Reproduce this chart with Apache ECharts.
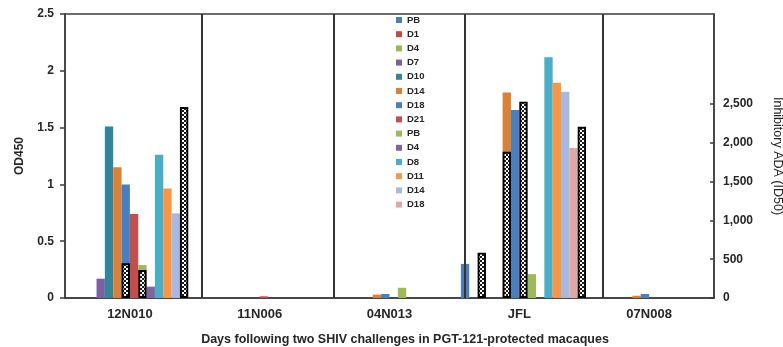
<!DOCTYPE html>
<html><head><meta charset="utf-8">
<script src="https://cdn.jsdelivr.net/npm/echarts@6/dist/echarts.min.js"></script>
<style>html,body{margin:0;padding:0;background:#fff}#c{width:783px;height:347px}</style>
</head><body><div id="c"></div>
<script>
// ---------- data ----------
const animals = ['12N010', '11N006', '04N013', 'JFL', '07N008'];
const legendNames = ['PB', 'D1', 'D4', 'D7', 'D10', 'D14', 'D18', 'D21', 'PB', 'D4', 'D8', 'D11', 'D14', 'D18'];
// OD450 per series, in the order of `animals`
const odPB1  = [0,     0,     0,     0.30,  0];
const odD1   = [0,     0,     0,     0,     0];
const odD4a  = [0,     0,     0,     0,     0];
const odD7   = [0.17,  0,     0,     0,     0];
const odD10  = [1.51,  0,     0,     0,     0];
const odD14a = [1.15,  0,     0.03,  1.81,  0.02];
const odD18a = [1.00,  0,     0.035, 1.655, 0.035];
const odD21  = [0.74,  0.015, 0,     0,     0];
const odPB2  = [0.29,  0,     0.09,  0.21,  0];
const odD4b  = [0.10,  0,     0,     0,     0];
const odD8   = [1.26,  0,     0,     2.12,  0];
const odD11  = [0.965, 0,     0,     1.895, 0];
const odD14b = [0.745, 0,     0,     1.815, 0];
const odD18b = [null,  0,     0,     1.32,  0];
const odSeries = [odPB1, odD1, odD4a, odD7, odD10, odD14a, odD18a, odD21, odPB2, odD4b, odD8, odD11, odD14b, odD18b];
// Inhibitory ADA (ID50): [animal, ADA time-point series number, value]
const adaPoints = [
  ['12N010', 7, 447], ['12N010', 9, 361], ['12N010', 14, 2460],
  ['JFL', 3, 584], ['JFL', 6, 1885], ['JFL', 8, 2530], ['JFL', 15, 2207]
];
const adaSeriesCount = 16;
const leftTicks = [0, 0.5, 1, 1.5, 2, 2.5];
const rightTicks = [0, 500, 1000, 1500, 2000, 2500];
const dividerAt = [1.052, 2.07, 3.078, 4.142];

// ---------- styles ----------
const colors = ['#4A7EBF', '#BE4B48', '#98B954', '#7D60A0', '#31869B', '#DA8137', '#4A7EBF', '#C0504D',
                '#9BBB59', '#8064A2', '#4BACC6', '#F79646', '#A7B9DE', '#DFA8A7'];
const FONT = 'Liberation Sans, Arial, sans-serif';
const TXT = '#262626';
const AX = '#3c3c3c';

const pat = document.createElement('canvas'); pat.width = 4; pat.height = 4;
const g = pat.getContext('2d');
g.fillStyle = '#ffffff'; g.fillRect(0, 0, 4, 4);
g.fillStyle = '#1b1b1b'; g.fillRect(0, 0, 2, 2); g.fillRect(2, 2, 2, 2);

const seriesIds = legendNames.map((n, i) => n + '_' + i);
const series = odSeries.map((arr, i) => ({
  type: 'bar', name: seriesIds[i], xAxisIndex: 0, yAxisIndex: 0,
  data: arr, barGap: '0%', barCategoryGap: '10%',
  itemStyle: { color: colors[i] }, z: 2
}));
for (let k = 0; k < adaSeriesCount; k++) {
  series.push({
    type: 'bar', name: 'ADA_' + k, xAxisIndex: 1, yAxisIndex: 1,
    data: animals.map(a => { const p = adaPoints.find(q => q[0] === a && q[1] === k); return p ? p[2] : null; }),
    barWidth: 8.34, barGap: '0%',
    itemStyle: { color: { image: pat, repeat: 'repeat' }, borderColor: '#000', borderWidth: 1.9 },
    z: 5
  });
}
series.push({
  type: 'line', xAxisIndex: 2, yAxisIndex: 0, data: [], silent: true,
  markLine: { silent: true, symbol: 'none', label: { show: false },
    lineStyle: { type: 'solid', color: '#333', width: 2 },
    data: dividerAt.map(x => ({ xAxis: x })) }
});

const chart = echarts.init(document.getElementById('c'), null, { renderer: 'canvas' });
chart.setOption({
  animation: false,
  backgroundColor: '#fff',
  textStyle: { fontFamily: FONT },
  grid: { left: 65, right: 69, top: 14, bottom: 49, show: true, borderColor: AX, borderWidth: 1.5,
    backgroundColor: 'transparent', containLabel: false, outerBoundsMode: 'none' },
  title: { text: 'Days following two SHIV challenges in PGT-121-protected macaques',
    left: 400, top: 328, textAlign: 'center',
    textStyle: { fontFamily: FONT, fontSize: 12.5, fontWeight: 'bold', color: TXT } },
  legend: {
    data: seriesIds, orient: 'vertical', left: 396, top: 14, padding: 0,
    itemWidth: 6, itemHeight: 6, itemGap: 2.2, icon: 'rect',
    formatter: n => n.split('_')[0],
    textStyle: { fontFamily: FONT, fontSize: 9.5, fontWeight: 'bold', color: TXT, lineHeight: 12 }
  },
  xAxis: [
    { type: 'category', data: animals, position: 'bottom',
      axisLine: { lineStyle: { color: AX, width: 1.5 } },
      axisTick: { length: 5, lineStyle: { color: AX, width: 1.5 } },
      axisLabel: { fontFamily: FONT, fontSize: 13, fontWeight: 'bold', color: TXT, margin: 10 } },
    { type: 'category', data: animals, show: false },
    { type: 'value', min: 0, max: animals.length, show: false }
  ],
  yAxis: [
    { type: 'value', min: 0, max: 2.5, interval: 0.5, splitLine: { show: false },
      axisLine: { show: true, lineStyle: { color: AX, width: 1.5 } },
      axisTick: { show: true, length: 5, lineStyle: { color: AX, width: 1.5 } },
      axisLabel: { fontFamily: FONT, fontSize: 12, fontWeight: 'bold', color: TXT, margin: 11,
        customValues: leftTicks },
      name: 'OD450', nameLocation: 'middle', nameGap: 39,
      nameTextStyle: { fontFamily: FONT, fontSize: 12, fontWeight: 'bold', color: TXT } },
    { type: 'value', min: 0, max: 3660, position: 'right', splitLine: { show: false },
      axisLine: { show: true, lineStyle: { color: AX, width: 1.5 } },
      axisTick: { show: true, inside: true, length: 4, customValues: rightTicks, lineStyle: { color: AX, width: 1.5 } },
      axisLabel: { fontFamily: FONT, fontSize: 12, fontWeight: 'bold', color: TXT, margin: 9,
        customValues: rightTicks, formatter: v => v.toLocaleString('en-US') },
      name: 'Inhibitory ADA (ID50)', nameLocation: 'middle', nameGap: 57, nameRotate: -90,
      nameTextStyle: { fontFamily: FONT, fontSize: 12.5, color: TXT } }
  ],
  series
});
</script></body></html>
